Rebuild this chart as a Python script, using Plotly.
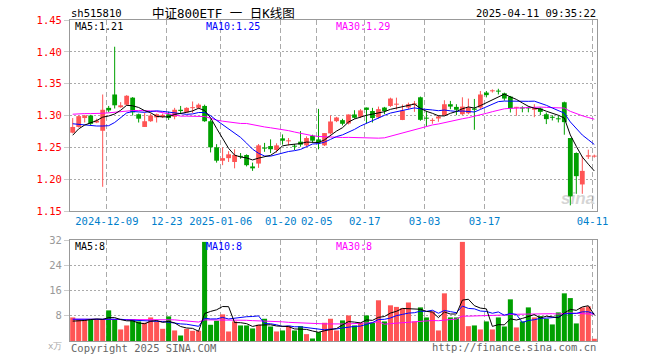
import plotly.graph_objects as go
import pandas as pd

# ---------------- data ----------------
dates = [
    "2024-11-29",
    "2024-12-02", "2024-12-03", "2024-12-04", "2024-12-05", "2024-12-06",
    "2024-12-09", "2024-12-10", "2024-12-11", "2024-12-12", "2024-12-13",
    "2024-12-16", "2024-12-17", "2024-12-18", "2024-12-19", "2024-12-20",
    "2024-12-23", "2024-12-24", "2024-12-25", "2024-12-26", "2024-12-27",
    "2024-12-30", "2024-12-31",
    "2025-01-02", "2025-01-03", "2025-01-06", "2025-01-07", "2025-01-08",
    "2025-01-09", "2025-01-10", "2025-01-13", "2025-01-14", "2025-01-15",
    "2025-01-16", "2025-01-17", "2025-01-20", "2025-01-21", "2025-01-22",
    "2025-01-23", "2025-01-24", "2025-01-27",
    "2025-02-05", "2025-02-06", "2025-02-07", "2025-02-10", "2025-02-11",
    "2025-02-12", "2025-02-13", "2025-02-14", "2025-02-17", "2025-02-18",
    "2025-02-19", "2025-02-20", "2025-02-21", "2025-02-24", "2025-02-25",
    "2025-02-26", "2025-02-27", "2025-02-28",
    "2025-03-03", "2025-03-04", "2025-03-05", "2025-03-06", "2025-03-07",
    "2025-03-10", "2025-03-11", "2025-03-12", "2025-03-13", "2025-03-14",
    "2025-03-17", "2025-03-18", "2025-03-19", "2025-03-20", "2025-03-21",
    "2025-03-24", "2025-03-25", "2025-03-26", "2025-03-27", "2025-03-28",
    "2025-03-31",
    "2025-04-01", "2025-04-02", "2025-04-03", "2025-04-07", "2025-04-08",
    "2025-04-09", "2025-04-10", "2025-04-11",
]

opens = [1.273, 1.282, 1.296, 1.300, 1.289, 1.276, 1.312, 1.333, 1.313, 1.317,
         1.328, 1.302, 1.282, 1.291, 1.297, 1.298, 1.302, 1.298, 1.309, 1.305,
         1.3115, 1.312, 1.315, 1.291, 1.250, 1.229, 1.233, 1.227, 1.236, 1.238,
         1.220, 1.2245, 1.2495, 1.252, 1.2458, 1.2641, 1.2594, 1.2521, 1.2589, 1.2531,
         1.2682, 1.2625, 1.2531, 1.2719, 1.2911, 1.2927, 1.2875, 1.3016, 1.298, 1.3125,
         1.307, 1.297, 1.3125, 1.315, 1.317, 1.293, 1.3125, 1.317, 1.3286, 1.2958,
         1.2915, 1.2953, 1.3005, 1.3177, 1.3135, 1.302, 1.3036, 1.311, 1.3125, 1.336,
         1.338, 1.3385, 1.3349, 1.3297, 1.312, 1.3115, 1.3118, 1.309, 1.311, 1.302,
         1.2974, 1.2948, 1.3208, 1.2646, 1.2411, 1.1917, 1.2354, 1.2354]
highs = [1.296, 1.300, 1.301, 1.301, 1.295, 1.333, 1.315, 1.408, 1.321, 1.332,
         1.329, 1.303, 1.304, 1.303, 1.303, 1.303, 1.306, 1.312, 1.315, 1.313,
         1.322, 1.319, 1.317, 1.294, 1.255, 1.250, 1.244, 1.247, 1.241, 1.239,
         1.226, 1.2552, 1.257, 1.2625, 1.2563, 1.2703, 1.2646, 1.2552, 1.2755, 1.2672,
         1.2698, 1.3104, 1.2724, 1.300, 1.2979, 1.2948, 1.3016, 1.3083, 1.310, 1.3125,
         1.312, 1.314, 1.3135, 1.328, 1.328, 1.3172, 1.3203, 1.3229, 1.3297, 1.3073,
         1.2958, 1.3005, 1.324, 1.3229, 1.3177, 1.3286, 1.3266, 1.326, 1.3385, 1.3385,
         1.3411, 1.342, 1.3359, 1.3307, 1.3135, 1.3145, 1.3145, 1.3177, 1.3125, 1.3047,
         1.3005, 1.2995, 1.3218, 1.2646, 1.2421, 1.236, 1.2463, 1.2385]
lows = [1.272, 1.281, 1.289, 1.285, 1.288, 1.188, 1.305, 1.311, 1.312, 1.316,
        1.300, 1.289, 1.282, 1.290, 1.289, 1.296, 1.293, 1.294, 1.303, 1.304,
        1.304, 1.310, 1.290, 1.242, 1.226, 1.222, 1.227, 1.217, 1.232, 1.220,
        1.213, 1.2177, 1.243, 1.241, 1.2417, 1.2542, 1.2531, 1.2458, 1.251, 1.251,
        1.2573, 1.2469, 1.2521, 1.2703, 1.2896, 1.2844, 1.286, 1.295, 1.296, 1.2875,
        1.289, 1.295, 1.302, 1.3135, 1.3094, 1.2927, 1.310, 1.3057, 1.2917, 1.2836,
        1.287, 1.2901, 1.2995, 1.3099, 1.3005, 1.3005, 1.302, 1.2776, 1.310, 1.3285,
        1.336, 1.333, 1.3234, 1.3047, 1.2995, 1.305, 1.305, 1.2974, 1.3005, 1.2865,
        1.2922, 1.2891, 1.2698, 1.1589, 1.177, 1.177, 1.2318, 1.2338]
closes = [1.282, 1.299, 1.300, 1.287, 1.292, 1.309, 1.308, 1.316, 1.316, 1.331,
          1.305, 1.295, 1.291, 1.300, 1.302, 1.301, 1.296, 1.309, 1.307, 1.312,
          1.312, 1.317, 1.291, 1.250, 1.229, 1.233, 1.239, 1.238, 1.235, 1.222,
          1.217, 1.2531, 1.248, 1.247, 1.2531, 1.2604, 1.261, 1.251, 1.2542, 1.2646,
          1.2604, 1.2573, 1.2724, 1.2906, 1.2969, 1.287, 1.3016, 1.2964, 1.308, 1.3088,
          1.296, 1.310, 1.307, 1.3266, 1.3185, 1.3078, 1.3177, 1.319, 1.2932, 1.295,
          1.2922, 1.2984, 1.3177, 1.314, 1.309, 1.314, 1.3125, 1.309, 1.333, 1.332,
          1.339, 1.3375, 1.3266, 1.311, 1.3125, 1.311, 1.3112, 1.3115, 1.3057, 1.2943,
          1.2964, 1.294, 1.2896, 1.1729, 1.2047, 1.213, 1.2375, 1.2365]
volumes = [7.47, 6.9, 6.84, 6.84, 6.84, 6.84, 9.7, 6.84, 3.66, 4.93,
           6.84, 6.2, 5.78, 7.47, 6.2, 3.87, 7.79, 3.34, 1.75, 3.87,
           3.23, 3.23, 31.4, 5.14, 6.41, 8.43, 3.02, 6.2, 4.93, 4.93,
           3.98, 5.14, 7.05, 4.6, 3.02, 3.34, 4.82, 3.34, 4.7, 2.17,
           0.8, 2.8, 5.78, 7.05, 3.34, 6.52, 8.1, 4.93, 5.78, 8.1,
           5.78, 12.9, 6.2, 11.3, 10.8, 10.4, 12.2, 6.2, 10.65, 7.47,
           9.38, 3.34, 15.1, 7.47, 7.47, 31.4, 4.7, 4.93, 3.66, 6.2,
           3.66, 7.47, 4.6, 13.2, 4.3, 6.2, 10.65, 7.47, 7.9, 7.05,
           5.25, 9.06, 15.1, 13.6, 5.57, 10.65, 10.97, 0.7]

# moving-average values visible before a full window exists
ma5_head = [1.269, 1.279, 1.285, 1.289]
ma10_head = [1.287, 1.286, 1.285, 1.284, 1.2835, 1.2835, 1.284, 1.289, 1.297]
ma30_head = [1.302, 1.303, 1.303, 1.303, 1.303, 1.3035, 1.3042, 1.3052, 1.3063, 1.3073,
             1.3078, 1.3078, 1.3078, 1.3073, 1.3063, 1.3042, 1.3021, 1.300, 1.299, 1.299,
             1.299, 1.299, 1.2984, 1.2958, 1.2927, 1.2911, 1.2896, 1.2885, 1.2875]
vma5_head = [6.3, 6.3, 6.5, 6.8]
vma10_head = [6.9, 6.9, 6.9, 6.85, 6.8, 6.8, 7.0, 7.0, 6.9]
vma30_head = [6.9, 6.9, 6.9, 6.9, 6.9, 6.9, 6.9, 6.9, 6.9, 6.9,
              6.9, 6.9, 6.9, 6.9, 6.9, 6.9, 6.8, 6.7, 6.5, 6.3,
              6.1, 6.0, 6.7, 6.7, 6.7, 6.8, 6.7, 6.7, 6.6]

tick_dates = ["2024-12-09", "2024-12-23", "2025-01-06", "2025-01-20", "2025-02-05",
              "2025-02-17", "2025-03-03", "2025-03-17", "2025-04-11"]
tick_text = ["2024-12-09", "12-23", "2025-01-06", "01-20", "02-05",
             "02-17", "03-03", "03-17", "04-11"]
price_ticks = [1.15, 1.20, 1.25, 1.30, 1.35, 1.40, 1.45]
volume_ticks = [8, 16, 24, 32]

symbol = "sh515810"
title_text = "中证800ETF 一 日K线图"
timestamp = "2025-04-11 09:35:22"
price_legend = ["MA5:1.21", "MA10:1.25", "MA30:1.29"]
volume_legend = ["MA5:8", "MA10:8", "MA30:8"]

# ---------------- derived ----------------
def moving(values, n, head):
    s = pd.Series(values).rolling(n).mean().tolist()
    return list(head) + s[len(head):]

ma5 = moving(closes, 5, ma5_head)
ma10 = moving(closes, 10, ma10_head)
ma30 = moving(closes, 30, ma30_head)
vma5 = moving(volumes, 5, vma5_head)
vma10 = moving(volumes, 10, vma10_head)
vma30 = moving(volumes, 30, vma30_head)

RED = "#ff5555"
GREEN = "#00a000"
MONO = "DejaVu Sans Mono, Liberation Mono, monospace"
idx = list(range(len(dates)))
is_up = [c >= o for o, c in zip(opens, closes)]
colors = [RED if u else GREEN for u in is_up]
tick_pos = [dates.index(d) - 0.3 for d in tick_dates]
MIN_BODY = 0.0016

fig = go.Figure()

# wicks (one trace per colour)
for up, col in [(True, RED), (False, GREEN)]:
    wx, wy = [], []
    for i in idx:
        if is_up[i] == up:
            wx += [i, i, None]
            wy += [lows[i], highs[i], None]
    fig.add_trace(go.Scatter(x=wx, y=wy, mode="lines", line=dict(color=col, width=1),
                             xaxis="x", yaxis="y", showlegend=False, hoverinfo="skip"))

# bodies
body_base = [min(o, c) for o, c in zip(opens, closes)]
body_h = [max(abs(c - o), MIN_BODY) for o, c in zip(opens, closes)]
fig.add_trace(go.Bar(x=idx, y=body_h, base=body_base, width=0.8,
                     marker=dict(color=colors, line=dict(width=0)),
                     xaxis="x", yaxis="y", showlegend=False, hoverinfo="skip"))

for vals, col in [(ma30, "#ff00ff"), (ma10, "#0000ff"), (ma5, "#000000")]:
    fig.add_trace(go.Scatter(x=idx, y=vals, mode="lines", line=dict(color=col, width=1),
                             xaxis="x", yaxis="y", showlegend=False, hoverinfo="skip"))

fig.add_trace(go.Bar(x=idx, y=volumes, marker=dict(color=colors, line=dict(width=0)),
                     width=0.84, xaxis="x2", yaxis="y2", showlegend=False, hoverinfo="skip"))
for vals, col in [(vma30, "#ff00ff"), (vma10, "#0000ff"), (vma5, "#000000")]:
    fig.add_trace(go.Scatter(x=idx, y=vals, mode="lines", line=dict(color=col, width=1),
                             xaxis="x2", yaxis="y2", showlegend=False, hoverinfo="skip"))

L, R, T, B = 70, 597, 20, 341
W, H = R - L, B - T


def ann(text, xp, yp, color, size=10, xanchor="left", family=MONO, **kw):
    return dict(text=text, x=(xp - L) / W, y=(B - yp) / H, xref="paper", yref="paper",
                xanchor=xanchor, yanchor="middle", showarrow=False,
                font=dict(family=family, size=size, color=color), **kw)


annotations = [
    ann(symbol, 69, 13, "#000000", 10.5),
    ann(title_text, 150, 13, "#000000", 12.5, family="DejaVu Sans Mono, Noto Sans CJK SC"),
    ann(timestamp, 598, 13, "#000000", 10.5, xanchor="right"),
    ann(price_legend[0], 73, 26, "#000000"),
    ann(price_legend[1], 204, 26, "#0000ff"),
    ann(price_legend[2], 334, 26, "#ff00ff"),
    ann(volume_legend[0], 73, 246, "#000000"),
    ann(volume_legend[1], 204, 246, "#0000ff"),
    ann(volume_legend[2], 334, 246, "#ff00ff"),
    ann("x万", 64, 346, "#aaaaaa", 9, xanchor="right"),
    ann("Copyright 2025 SINA.COM", 69, 348, "#666666", 10.5),
    ann("http://finance.sina.com.cn", 598, 347, "#666666", 10.5, xanchor="right"),
    ann("<i><b>sina</b></i>", 597, 199, "rgba(160,160,160,0.45)", 17, xanchor="right",
        family="Liberation Sans, Arial"),
]

xcommon = dict(range=[-0.45, 87.45], tickmode="array", tickvals=tick_pos, ticktext=tick_text,
               showgrid=True, gridcolor="#aaaaaa", gridwidth=1, griddash="5px,3px",
               showline=True, mirror=True, linecolor="#999999", linewidth=1,
               zeroline=False, ticks="", fixedrange=True)

fig.update_layout(
    width=660, height=360,
    margin=dict(l=L, r=660 - R, t=T, b=360 - B),
    paper_bgcolor="white", plot_bgcolor="white",
    xaxis=dict(**xcommon, domain=[0, 1], anchor="y",
               tickfont=dict(family=MONO, size=10.5, color="#0080cc")),
    xaxis2=dict(**xcommon, domain=[0, 1], anchor="y2", showticklabels=False),
    yaxis=dict(domain=[(B - 211) / H, 1], range=[1.15, 1.45], tickmode="array",
               tickvals=price_ticks, ticktext=[f"{v:.2f}" for v in price_ticks],
               tickfont=dict(family=MONO, size=10.5, color="#ff0000"),
               showgrid=True, gridcolor="#aaaaaa", griddash="2px,2px",
               showline=True, mirror=True, linecolor="#999999", linewidth=1,
               zeroline=False, ticks="outside", ticklen=5, tickcolor="#cccccc", anchor="x"),
    yaxis2=dict(domain=[0, (B - 240) / H], range=[0, 32], tickmode="array",
                tickvals=volume_ticks, ticktext=[str(v) for v in volume_ticks],
                tickfont=dict(family=MONO, size=10.5, color="#999999"),
                showgrid=True, gridcolor="#aaaaaa", griddash="2px,2px",
                showline=True, mirror=True, linecolor="#999999", linewidth=1,
                zeroline=False, ticks="outside", ticklen=5, tickcolor="#cccccc", anchor="x2"),
    annotations=annotations,
    barmode="overlay",
)

fig.write_html("out.html", config={"displayModeBar": False, "staticPlot": True},
               post_script="document.body.style.margin='0';")
